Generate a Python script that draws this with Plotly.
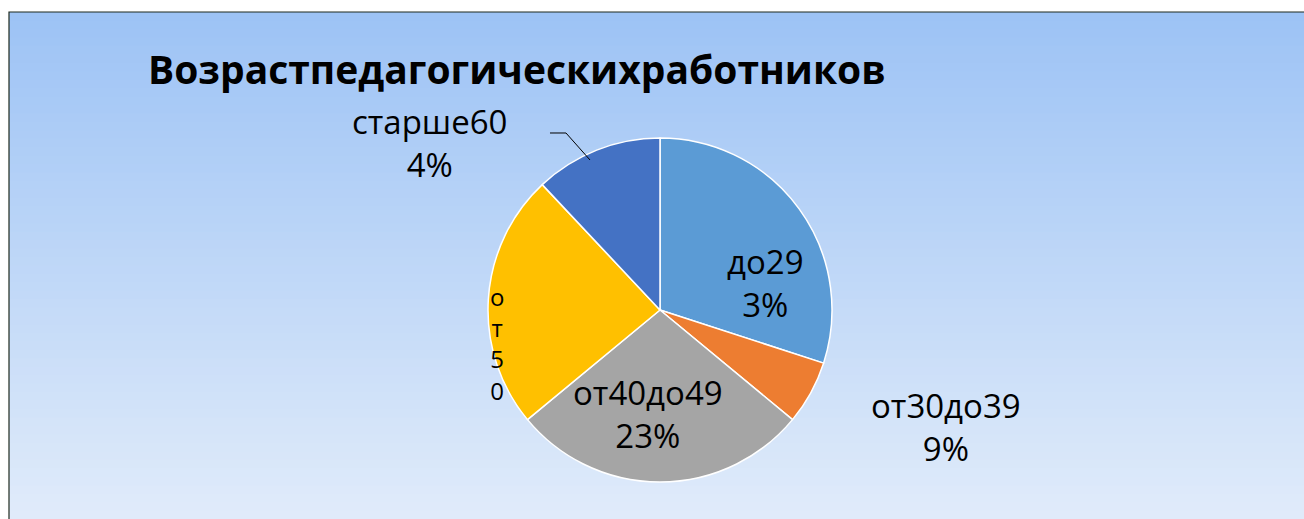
import plotly.graph_objects as go

categories = ["до29", "от30до39", "от40до49", "от50", "старше60"]
values = [30, 6, 28, 24, 12]
label_texts = ["до29<br>3%", "от30до39<br>9%", "от40до49<br>23%", "о<br>т<br>5<br>0", "старше60<br>4%"]
colors = ["#5B9BD5", "#ED7D31", "#A5A5A5", "#FFC000", "#4472C4"]
title_text = "Возрастпедагогическихработников"

W, H = 1304, 519
FONT = "Open Sans"
LBL = 33

def px(x):
    return x / W

def py(y):
    return 1 - y / H

cx, cy, R = 660, 310, 172

fig = go.Figure()
fig.add_trace(go.Pie(
    labels=categories,
    values=values,
    textinfo="none",
    marker=dict(colors=colors, line=dict(color="#FFFFFF", width=1.5)),
    sort=False,
    direction="clockwise",
    rotation=0,
    showlegend=False,
    hoverinfo="label+value",
    domain=dict(x=[px(cx - R), px(cx + R)], y=[py(cy + R), py(cy - R)]),
))

# gradient background panel
shapes = []
x0p, x1p = px(9), 1.0
ytop, ybot = py(12), 0.0
n = 60
c_top = (157, 195, 245)
c_bot = (224, 235, 250)
for i in range(n):
    t = i / (n - 1)
    c = tuple(int(round(c_top[k] + (c_bot[k] - c_top[k]) * t)) for k in range(3))
    ya = ytop - (ytop - ybot) * i / n
    yb = ytop - (ytop - ybot) * (i + 1) / n
    shapes.append(dict(type="rect", xref="paper", yref="paper", x0=x0p, x1=x1p, y0=yb - 0.002, y1=ya,
                       fillcolor="rgb(%d,%d,%d)" % c, line=dict(width=0), layer="below"))
shapes.append(dict(type="rect", xref="paper", yref="paper", x0=x0p, x1=1.01, y0=-0.01, y1=ytop,
                   fillcolor="rgba(0,0,0,0)", line=dict(color="#1E2A1E", width=1.2), layer="above"))
# leader line for the "старше60" label
shapes.append(dict(type="path", xref="paper", yref="paper",
                   path="M %f,%f L %f,%f L %f,%f" % (px(550), py(133), px(566), py(133), px(590), py(160)),
                   line=dict(color="#000000", width=1), layer="above"))

def ann(text, x, y, size=LBL):
    return dict(text=text, x=px(x), y=py(y), xref="paper", yref="paper", showarrow=False,
                xanchor="center", yanchor="middle", font=dict(family=FONT, size=size, color="#000000"))

annotations = [
    ann(label_texts[0], 765, 283),
    ann(label_texts[1], 946, 427),
    ann(label_texts[2], 648, 414),
    ann(label_texts[4], 430, 143),
    ann(label_texts[3], 497, 343, size=24),
]

fig.update_layout(
    width=W, height=H,
    margin=dict(l=0, r=0, t=0, b=0),
    paper_bgcolor="#FFFFFF",
    plot_bgcolor="rgba(0,0,0,0)",
    shapes=shapes,
    annotations=annotations,
    title=dict(text="<b>" + title_text + "</b>", x=px(148), xanchor="left", y=py(70), yanchor="middle",
               font=dict(family=FONT, size=39, color="#000000")),
    font=dict(family=FONT),
)

fig.write_html("out.html", config={"displayModeBar": False},
               post_script="document.body.style.margin='0';")
